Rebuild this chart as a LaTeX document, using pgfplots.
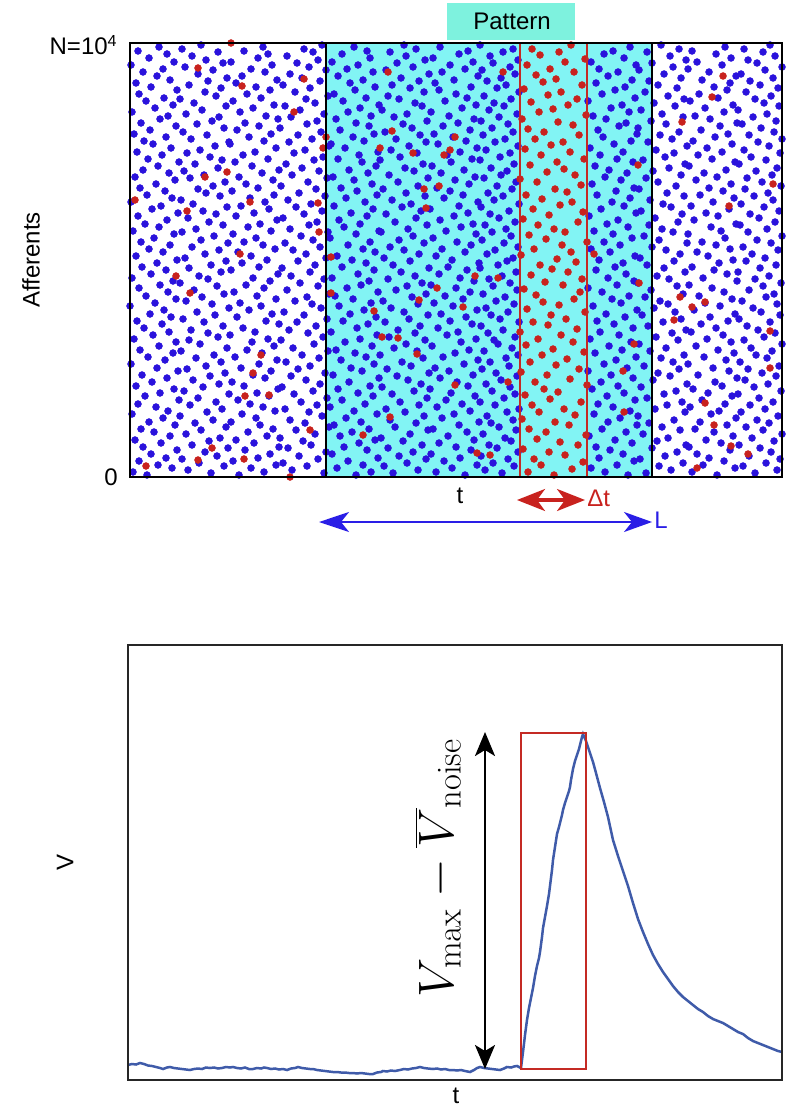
\documentclass[border=0pt]{standalone}
\usepackage[no-math]{fontspec}
\setmainfont{Liberation Sans}
\usepackage{pgfplots}
\pgfplotsset{compat=1.18}
\usepackage{pgfplotstable}
\usetikzlibrary{arrows.meta}
\definecolor{dotblue}{HTML}{2A12DC}
\definecolor{dotred}{HTML}{C8221E}
\definecolor{patcyan}{HTML}{82F4F4}
\definecolor{labcyan}{HTML}{7EF2DE}
\definecolor{boxred}{HTML}{C42A24}
\definecolor{arrblue}{HTML}{2A1EE6}
\definecolor{trace}{HTML}{3F5BA9}

% background spikes: one y per row, x of each strip in columns a..l
\pgfplotstableread{
ya yb a b c d e f g h i j k l
2 4 17 81 109 194 226 263 335 372 498 516 587 625
5 7 3 58 134 162 241 288 306 355 475 541 562 647
9 11 42 94 121 177 207 254 322 384 461 529 605 613
12 14 28 69 146 153 233 277 347 363 487 553 573 636
16 18 9 52 103 188 218 296 314 378 504 510 594 650
19 21 36 87 128 169 248 269 330 351 469 535 579 619
23 25 21 75 140 196 202 283 301 388 493 547 567 641
27 29 47 98 115 158 237 258 341 367 480 522 600 630
30 32 13 62 149 181 214 292 326 359 466 556 559 609
34 36 31 79 124 173 229 273 309 381 502 527 591 644
37 39 5 90 106 150 245 251 344 375 485 538 576 622
41 43 40 56 137 185 210 280 318 353 459 513 603 652
45 47 24 71 118 166 222 298 337 386 496 550 584 633
48 50 11 96 143 199 239 265 303 369 472 532 565 616
52 54 45 65 130 175 204 286 329 361 507 519 597 639
55 57 19 83 101 160 231 260 349 383 478 544 570 627
59 61 33 50 126 192 216 294 312 357 490 508 606 648
63 65 2 77 112 179 247 275 324 377 464 555 581 611
66 68 38 92 145 155 224 256 340 389 500 525 589 635
70 72 26 60 133 187 200 289 307 365 483 537 560 620
73 75 8 86 120 171 235 270 332 350 468 552 595 643
77 79 49 68 108 197 212 297 316 374 505 517 572 629
81 83 15 99 139 164 243 262 345 385 477 534 602 608
84 86 30 54 127 183 228 284 321 362 494 546 578 651
88 90 44 73 148 152 208 252 300 380 462 511 563 624
91 93 6 89 114 190 240 291 338 356 488 557 592 638
95 97 22 63 102 176 219 278 327 371 471 523 585 615
99 101 37 80 135 161 249 267 310 387 503 540 607 646
102 104 12 95 123 195 203 299 343 366 481 528 568 632
106 108 48 57 141 168 232 257 319 352 458 549 599 618
109 111 27 76 111 180 221 281 305 379 497 514 583 649
113 115 1 91 129 156 244 272 334 360 474 543 558 610
117 119 35 66 147 189 211 293 348 376 486 531 596 637
120 122 18 84 105 172 236 250 313 388 506 554 574 626
124 126 43 51 132 198 225 287 325 354 465 520 604 642
127 129 10 97 117 163 206 264 339 382 492 536 588 621
131 133 29 70 144 184 242 276 302 368 479 509 566 652
135 137 46 59 122 151 215 295 331 364 501 548 601 614
138 140 4 88 138 193 230 259 346 385 460 526 577 634
142 144 23 78 100 178 247 285 317 358 489 542 593 645
145 147 39 61 125 159 201 268 328 373 470 556 561 628
149 151 14 93 113 186 227 290 308 351 503 518 586 617
153 155 32 74 149 167 238 255 342 389 484 533 571 640
156 158 7 53 136 197 213 279 320 370 467 551 598 609
160 162 41 85 107 174 246 298 336 361 495 512 580 650
163 165 20 67 142 154 220 274 311 378 476 545 605 631
167 169 34 99 119 191 234 261 347 356 507 524 564 623
171 173 0 82 131 182 209 288 323 384 463 538 590 647
174 176 25 56 110 165 241 253 304 366 491 530 575 612
178 180 46 72 146 177 223 282 333 375 482 515 602 636
181 183 16 94 127 199 205 296 315 353 499 553 569 644
185 187 38 64 104 157 248 266 340 387 472 521 594 619
189 191 9 87 134 188 217 277 326 363 458 547 582 633
192 194 30 50 116 170 231 292 301 380 487 508 559 651
196 198 43 78 140 194 239 258 344 359 504 539 607 625
199 201 2 69 123 161 202 285 330 372 478 527 573 639
203 205 21 91 148 180 228 271 309 386 496 555 597 608
207 209 36 59 101 152 244 299 337 350 466 534 584 630
210 212 12 81 129 185 212 263 318 368 485 517 562 646
214 216 27 96 112 168 236 280 349 377 493 544 589 616
217 219 47 55 137 196 222 254 322 383 469 510 603 635
221 223 6 75 121 176 207 289 306 357 505 550 578 622
225 227 33 89 108 163 245 274 335 365 480 536 567 648
228 230 19 62 145 190 233 260 312 388 461 522 600 613
232 234 40 98 133 155 218 294 341 374 490 557 586 641
235 237 11 71 114 183 240 269 327 352 474 529 572 627
239 241 24 84 126 171 200 283 303 381 502 514 595 652
243 245 44 52 103 198 226 251 346 362 483 543 558 618
246 248 3 66 141 160 249 278 316 376 464 532 591 637
250 252 29 93 118 179 214 297 331 355 498 519 581 610
253 255 15 79 130 187 230 265 343 385 477 548 606 645
257 259 37 58 147 153 209 286 310 369 488 525 564 629
261 263 8 86 106 174 237 256 324 360 459 552 588 620
264 266 48 73 124 192 221 291 338 379 506 511 576 649
268 270 22 97 139 166 243 272 300 351 471 541 599 634
271 273 31 63 111 181 204 281 329 389 494 533 561 611
275 277 1 51 135 158 235 262 348 364 482 520 583 643
279 281 42 90 120 195 216 295 314 373 500 554 604 624
282 284 17 76 144 169 247 276 333 358 467 537 570 638
286 288 35 68 102 186 227 253 320 382 486 509 593 615
289 291 10 83 128 151 211 288 307 367 504 546 579 651
293 295 26 95 116 178 242 268 339 386 462 528 601 632
297 299 45 60 143 197 224 298 325 354 491 516 566 617
300 302 5 74 109 162 203 259 345 371 475 551 587 642
304 306 39 54 132 189 238 284 311 377 497 523 574 626
307 309 13 88 149 172 219 275 334 361 479 539 596 647
311 313 28 65 122 156 246 293 302 384 465 555 559 609
315 317 49 92 105 184 232 250 321 350 503 513 605 636
318 320 18 80 138 193 208 270 342 370 487 535 582 621
322 324 32 57 113 164 229 287 317 380 470 544 568 650
325 327 7 70 125 175 248 261 330 356 493 526 592 614
329 331 41 85 146 199 215 279 347 388 460 557 577 639
333 335 23 99 100 159 201 296 308 365 484 518 602 628
336 338 14 61 134 182 234 266 336 375 501 542 563 652
340 342 36 77 119 168 223 290 323 353 473 530 585 619
343 345 4 53 141 191 244 255 304 383 507 549 598 644
347 349 20 94 107 150 210 282 340 362 468 508 571 631
351 353 46 67 129 177 239 273 313 378 489 536 590 612
354 356 11 82 115 187 226 297 328 351 496 521 607 646
358 360 30 89 148 161 206 264 344 369 476 553 580 623
361 363 38 56 136 194 241 277 319 387 463 532 565 637
365 367 2 72 110 170 218 252 301 359 499 511 594 608
369 371 25 96 123 155 230 292 332 374 481 545 575 649
372 374 43 64 144 185 249 285 346 364 492 524 603 634
376 378 16 50 103 176 213 269 315 381 458 554 560 625
379 381 34 86 131 198 236 258 337 354 505 538 588 641
383 385 9 75 117 165 204 294 326 389 472 515 569 616
387 389 47 91 140 180 225 280 309 367 485 547 597 648
390 392 21 59 126 153 245 262 341 376 495 528 584 630
394 396 6 78 106 190 220 289 305 357 466 519 600 620
397 399 40 97 147 172 233 271 324 371 502 551 572 643
401 403 27 68 112 160 208 299 348 385 478 534 606 611
405 407 13 83 135 196 243 256 312 352 488 509 579 635
408 410 33 55 121 179 217 283 335 380 469 543 558 652
412 414 1 93 142 167 228 267 320 363 506 522 592 627
415 417 44 76 101 188 202 295 343 388 461 556 567 618
419 421 19 62 128 157 240 276 303 360 494 540 601 645
423 425 37 88 138 183 212 260 329 373 474 517 586 633
426 428 8 52 114 174 237 286 338 383 483 549 562 614
430 432 29 71 133 192 224 274 310 350 500 531 595 640
}\bluedots

% pattern spikes inside the red window
\pgfplotstableread{
x y
424 2
398 5
442 8
411 12
453 15
404 18
435 22
419 25
393 28
448 32
430 35
407 38
456 42
416 45
399 48
439 52
425 55
392 58
445 62
409 65
434 68
402 72
451 75
420 78
395 82
428 85
414 88
457 92
405 95
440 98
417 102
391 105
449 108
426 112
400 115
437 118
412 122
454 125
423 128
396 132
443 135
408 138
431 142
390 145
447 148
418 152
403 155
436 158
421 162
455 165
397 168
429 172
413 175
444 178
406 182
450 185
394 188
433 192
415 195
452 198
401 202
438 205
422 208
410 212
446 215
427 218
391 222
441 225
404 228
432 232
457 235
416 238
399 242
435 245
424 248
408 252
448 255
393 258
419 262
453 265
403 268
430 272
442 275
412 278
396 282
437 285
425 288
451 292
407 295
390 298
445 302
417 305
434 308
400 312
427 315
454 318
411 322
440 325
395 328
421 332
433 335
405 338
449 342
414 345
398 348
443 352
428 355
392 358
456 362
409 365
423 368
438 372
401 375
447 378
418 382
431 385
394 388
452 392
413 395
426 398
406 402
444 405
420 408
397 412
435 415
455 418
410 422
429 425
402 428
441 432
}\reddots

% red spikes scattered outside the window
\pgfplotstableread{
x y
101 434
68 409
174 398
112 391
164 365
196 340
193 329
258 405
262 346
250 329
97 305
75 300
5 277
57 266
120 275
188 274
189 245
373 405
325 340
283 324
314 322
320 327
294 288
309 291
296 269
508 312
593 401
582 380
552 355
643 293
599 271
110 223
46 201
60 184
131 122
123 104
115 81
139 82
180 47
82 29
201 220
201 184
345 201
368 199
307 189
289 177
333 170
244 166
252 140
268 139
287 123
325 92
378 95
260 60
233 42
464 223
509 194
504 133
493 106
494 65
550 180
562 170
575 175
544 157
640 146
640 109
575 74
584 52
601 31
68 17
114 18
16 11
160 0
618 23
567 9
347 24
360 22
}\strayred

% membrane potential
\pgfplotstableread{
x y
0 15
4 16
8 15.5
12 17
16 16
20 14.5
24 14
28 13
32 12
35 11
39 12.5
42 13
46 12
50 11.5
54 11
58 10.5
62 10
66 11
70 11.5
74 11
78 12.5
82 12
86 12.5
90 11.5
94 12
98 13
102 12.5
105 13
109 12
113 11.5
117 12.5
121 11
125 11
129 12
133 11.5
136 12.5
139 12
143 11
147 11.5
151 10.5
155 11
159 10
163 11.5
167 12
170 13
174 12
178 11.5
182 11
185 11
189 10
193 9.5
197 9
201 8.5
205 8
209 8
213 7.5
217 7.5
221 7
225 7
229 6.5
233 7
237 6.5
241 6
245 6
249 7.5
253 8
255 9
259 8.5
263 9.5
267 9
272 10
276 11
280 10.5
284 11.5
288 12
292 13
296 12
300 11.5
305 11
309 11.5
313 10.5
317 11
321 10
325 10
329 9.5
333 10
337 9
342 8
346 10
349 12
352 13
356 12
360 11.5
364 11
368 10.5
372 10
376 11.5
379 13
383 12.5
386 13.5
389 14
391 13
393 12
395 28
397 45
399 60
401 72
403 82
405 92
407 104
409 114
411 122
412 128
414 143
415 152
417 163
419 174
421 186
422 194
424 210
425 220
427 233
429 246
431 253
432 257
434 265
435 270
437 277
439 283
441 289
442 293
443 300
445 311
447 319
449 325
451 331
452 335
453 339
454 343
455 346
458 339
461 330
465 318
468 307
472 292
476 278
480 263
485 240
490 224
495 209
500 194
505 177
510 161
515 148
520 136
525 125
530 116
535 108
540 101
545 94
550 88
555 83
560 79
565 75
570 71
575 68
580 64
585 61
590 59
595 57
600 54
605 51
610 48
615 46
620 42
625 39
630 37
635 35
640 33
645 31
650 29
654 28
}\vtrace

\begin{document}
\begin{tikzpicture}[font=\fontsize{12}{14}\selectfont]
\path[use as bounding box] (0,0) rectangle (393.5pt,-553.5pt);

% ---- raster ----
\begin{axis}[at={(65pt,-238.5pt)},anchor=south west,
  scale only axis,width=326pt,height=217pt,
  xmin=0,xmax=652,ymin=0,ymax=434,
  ticks=none,axis on top,clip mode=individual,
  axis line style={line width=1pt,black},
  bd/.style={only marks,mark=*,mark size=1.75pt,dotblue,mark options={line width=0.2pt}},
  rd/.style={only marks,mark=*,mark size=1.75pt,dotred,mark options={line width=0.2pt}},
]
\fill[patcyan] (axis cs:196,0) rectangle (axis cs:522,434);
\addplot[bd] table[x=a,y=ya] {\bluedots};
\addplot[bd] table[x=b,y=yb] {\bluedots};
\addplot[bd] table[x=c,y=ya] {\bluedots};
\addplot[bd] table[x=d,y=yb] {\bluedots};
\addplot[bd] table[x=e,y=ya] {\bluedots};
\addplot[bd] table[x=f,y=yb] {\bluedots};
\addplot[bd] table[x=g,y=ya] {\bluedots};
\addplot[bd] table[x=h,y=yb] {\bluedots};
\addplot[bd] table[x=i,y=ya] {\bluedots};
\addplot[bd] table[x=j,y=yb] {\bluedots};
\addplot[bd] table[x=k,y=ya] {\bluedots};
\addplot[bd] table[x=l,y=yb] {\bluedots};
\addplot[rd] table {\strayred};
\addplot[rd] table {\reddots};
\draw[line width=1pt] (axis cs:196,0) -- (axis cs:196,434) (axis cs:522,0) -- (axis cs:522,434);
\draw[boxred,line width=1pt] (axis cs:390,0) rectangle (axis cs:457,434);

\fill[labcyan] (axis cs:317,437) rectangle (axis cs:445,474);
\node at (axis cs:382,455.5) {Pattern};
\node[anchor=base east,inner sep=0pt] at (axis cs:-12,422) {N=10\textsuperscript{4}};
\node[anchor=base east,inner sep=0pt] at (axis cs:-12,-8) {0};
\node[rotate=90] at (axis cs:-99,217) {Afferents};

\node[anchor=base,inner sep=0pt] at (axis cs:330,-26) {t};
\draw[dotred,line width=1.6pt,{Stealth[length=14pt,width=11pt,inset=4pt]}-{Stealth[length=14pt,width=11pt,inset=4pt]}]
  (axis cs:387,-23) -- (axis cs:455,-23);
\node[anchor=base west,inner sep=0pt,text=dotred] at (axis cs:457,-29) {Δt};
\draw[arrblue,line width=1.1pt,{Stealth[length=15pt,width=10pt,inset=4pt]}-{Stealth[length=14pt,width=10pt,inset=4pt]}]
  (axis cs:189,-45) -- (axis cs:522,-45);
\node[anchor=base west,inner sep=0pt,text=arrblue] at (axis cs:524,-51) {L};
\end{axis}

% ---- potential ----
\begin{axis}[at={(64pt,-540pt)},anchor=south west,
  scale only axis,width=327pt,height=217.5pt,
  xmin=0,xmax=654,ymin=0,ymax=435,
  ticks=none,axis on top,clip mode=individual,
  axis line style={line width=1.2pt,black!85},
]
\addplot[trace,line width=1.25pt] table {\vtrace};
\draw[boxred,line width=1pt] (axis cs:393,11) rectangle (axis cs:458,347);
\draw[line width=1.3pt,{Stealth[length=12pt,width=10pt,inset=3pt]}-{Stealth[length=12pt,width=10pt,inset=3pt]}]
  (axis cs:357,11) -- (axis cs:357,348);
\node[rotate=90,font=\fontsize{26.5}{30}\selectfont] at (axis cs:310,212) {$V_{\max}-\overline{V}_{\mathrm{noise}}$};
\node[rotate=90] at (axis cs:-63,217.5) {V};
\node[anchor=base,inner sep=0pt] at (axis cs:328,-23) {t};
\end{axis}
\end{tikzpicture}
\end{document}
